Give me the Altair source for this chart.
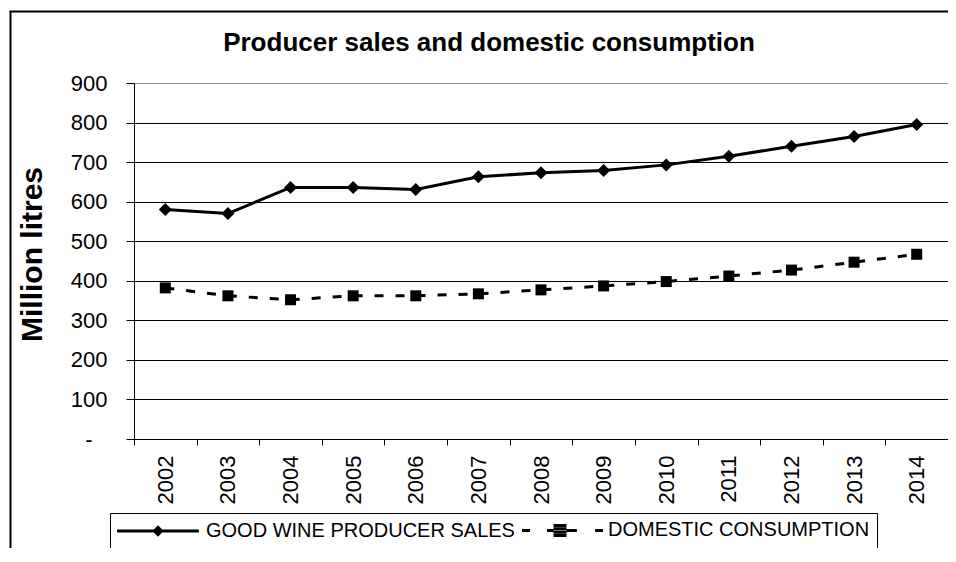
import altair as alt
import pandas as pd

# ---- data ----
years = ["2002", "2003", "2004", "2005", "2006", "2007", "2008",
         "2009", "2010", "2011", "2012", "2013", "2014"]
producer_sales = [580, 570, 636, 636, 631, 663, 673, 679, 693, 715, 740, 765, 795]
domestic_consumption = [382, 362, 352, 362, 362, 367, 377, 387, 398, 412, 427, 447, 467]
series_names = ["GOOD WINE PRODUCER SALES", "DOMESTIC CONSUMPTION"]
y_ticks = [0, 100, 200, 300, 400, 500, 600, 700, 800, 900]

df = pd.DataFrame({"year": years, "sales": producer_sales,
                   "consumption": domestic_consumption})
legend_df = pd.DataFrame({"series": series_names})
one_df = pd.DataFrame({"k": [0]})

W, H = 814, 356
FONT = "Liberation Sans"

x_enc = alt.X(
    "year:O",
    scale=alt.Scale(type="band", paddingInner=0, paddingOuter=0),
    axis=alt.Axis(title=None, labelAngle=270, tickBand="extent", tickSize=6,
                  labelPadding=10, labelFontSize=22, labelFont=FONT,
                  labelColor="black", domainColor="black", tickColor="black",
                  domainWidth=1, tickWidth=1, grid=False),
)

y_scale = alt.Scale(domain=[0, 900], nice=False, zero=True)
y_axis = alt.Axis(
    title="Million litres", values=y_ticks,
    labelExpr="datum.value == 0 ? '-' : datum.label",
    labelFontSize=22, labelFont=FONT, labelColor="black",
    labelPadding={"condition": {"test": "datum.value === 0", "value": 34},
                  "value": 19},
    tickSize=8, tickColor="black", domainColor="black", domainWidth=1,
    grid=True,
    gridColor={"condition": {"test": "datum.value === 900", "value": "#8c8c8c"},
               "value": "#000000"},
    gridWidth=1,
    titleFont=FONT, titleFontSize=30, titleFontWeight="bold", titleColor="black",
    titleAngle=270, titleAlign="center", titleBaseline="middle",
    titleX=-102, titleY=171,
)

base = alt.Chart(df)

sales_line = base.mark_line(color="black", strokeWidth=3).encode(
    x=x_enc, y=alt.Y("sales:Q", scale=y_scale, axis=y_axis))
sales_pts = base.mark_point(shape="diamond", filled=True, size=169,
                            color="black", opacity=1).encode(
    x=x_enc, y=alt.Y("sales:Q", scale=y_scale, axis=y_axis))
cons_line = base.mark_line(color="black", strokeWidth=3,
                           strokeDash=[9, 12]).encode(
    x=x_enc, y=alt.Y("consumption:Q", scale=y_scale, axis=y_axis))
cons_pts = base.mark_point(shape="square", filled=True, size=121,
                           color="black", opacity=1).encode(
    x=x_enc, y=alt.Y("consumption:Q", scale=y_scale, axis=y_axis))

# legend symbols: line + marker drawn as custom symbol paths
path_solid = "M-6.3,0L6.3,0M0,-0.55L0.55,0L0,0.55L-0.55,0Z"
path_dashed = ("M-5.85,0L-4.6,0M-2.0,0L-1.0,0M1.0,0L2.6,0M5.4,0L6.6,0"
               "M-1,-0.77L1,-0.77M-1,-0.26L1,-0.26M-1,0.26L1,0.26M-1,0.77L1,0.77")

legend_layer = alt.Chart(legend_df).transform_filter("false").mark_point(
    filled=False, stroke="black", strokeWidth=3, opacity=1, size=169
).encode(
    shape=alt.Shape(
        "series:N",
        scale=alt.Scale(domain=series_names, range=[path_solid, path_dashed]),
        legend=alt.Legend(
            title=None, orient="none", legendX=-24, legendY=430,
            direction="horizontal", padding=7, strokeColor="black",
            fillColor="white", cornerRadius=0,
            symbolSize=169, symbolOffset=31, labelOffset=38,
            columnPadding=0, symbolStrokeWidth=3, symbolStrokeColor="black",
            labelFont=FONT, labelFontSize=20, labelColor="black", labelLimit=0,
        ),
    )
)

frame_left = alt.Chart(one_df).mark_rule(color="black", strokeWidth=2).encode(
    x=alt.value(-123.5), y=alt.value(-72), y2=alt.value(H + 200))
frame_top = alt.Chart(one_df).mark_rule(color="black", strokeWidth=2).encode(
    x=alt.value(-124.5), x2=alt.value(W + 20), y=alt.value(-71.5))

chart = alt.layer(
    frame_left, frame_top, legend_layer,
    sales_line, cons_line, sales_pts, cons_pts,
).properties(
    width=W, height=H,
    title=alt.TitleParams(
        text="Producer sales and domestic consumption",
        font=FONT, fontSize=26, fontWeight="bold", color="black",
        anchor="middle", frame="group", dx=-52, dy=50,
    ),
    autosize=alt.AutoSizeParams(type="none"),
    padding={"left": 126, "top": 75, "right": 0, "bottom": 109},
    background="white",
).configure_view(stroke="#8c8c8c", strokeWidth=1)

chart.save("out.html", embed_options={"renderer": "svg", "actions": False})
